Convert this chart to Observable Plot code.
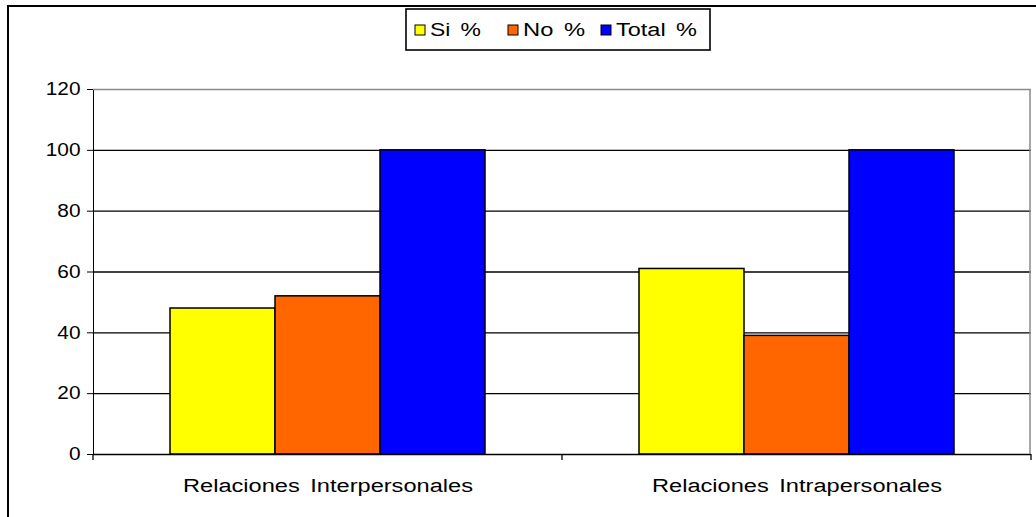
<!DOCTYPE html>
<html>
<head>
<meta charset="utf-8">
<script src="https://cdn.jsdelivr.net/npm/d3@7"></script>
<script src="https://cdn.jsdelivr.net/npm/@observablehq/plot@0.6"></script>
<style>
  html, body { margin: 0; padding: 0; background: #fff; overflow: hidden; }
  #wrap { position: relative; width: 1036px; height: 517px; font-family: "Liberation Sans", Arial, sans-serif; }
  #frame { position: absolute; left: 7px; top: 5px; width: 1100px; height: 600px; border: 2px solid #000; box-sizing: border-box; pointer-events: none; }
  #legend { position: absolute; left: 405px; top: 8px; }
  #chart { position: absolute; left: 0; top: 0; }
</style>
</head>
<body>
<div id="wrap">
  <div id="chart"></div>
  <div id="frame"></div>
  <div id="legend"></div>
</div>
<script>
// ---- data ----
const categories = ["Relaciones Interpersonales", "Relaciones Intrapersonales"];
const seriesNames = ["Si %", "No %", "Total %"];
const siValues = [48, 61];
const noValues = [52, 39];
const totalValues = [100, 100];
const seriesColors = ["#ffff00", "#ff6600", "#0000ff"];
const yTicks = [0, 20, 40, 60, 80, 100, 120];

const seriesValues = [siValues, noValues, totalValues];
const data = categories.flatMap((c, i) =>
  seriesNames.map((s, j) => ({ category: c, series: s, value: seriesValues[j][i] }))
);

const plot = Plot.plot({
  width: 1036,
  height: 517,
  marginLeft: 92,
  marginRight: 5,
  marginTop: 89,
  marginBottom: 63,
  style: { fontFamily: "Liberation Sans, Arial, sans-serif", fontSize: "18px", color: "#000", background: "transparent", overflow: "visible" },
  fx: { domain: categories, padding: 0, label: null, axis: "bottom", tickSize: 0, tickPadding: 25 },
  x: { domain: seriesNames, paddingInner: 0, paddingOuter: 0.73, axis: null },
  y: { domain: [0, 120], ticks: yTicks, tickSize: 6, tickPadding: 7, label: null, line: true, tickFormat: d => String(d) },
  color: { domain: seriesNames, range: seriesColors },
  marks: [
    Plot.ruleY(yTicks.filter(v => v > 0 && v < 120), { stroke: "#000", strokeWidth: 1.3 }),
    Plot.ruleY([120], { stroke: "#8a8a8a", strokeWidth: 1.5 }),
    Plot.barY(data, { fx: "category", x: "series", y: "value", fill: "series", stroke: "#000", strokeWidth: 1.5 }),
    Plot.ruleY([0], { stroke: "#000", strokeWidth: 1.5 })
  ]
});

document.getElementById("chart").appendChild(plot);

// category-boundary ticks and right edge, placed through the library's scales
const svg = d3.select(plot);
const fx = plot.scale("fx");
const y = plot.scale("y");
const edges = categories.map(c => fx.apply(c));
edges.push(fx.apply(categories[categories.length - 1]) + fx.bandwidth);
const y0 = y.apply(0), y120 = y.apply(120);
svg.append("g").selectAll("line").data(edges).join("line")
  .attr("x1", d => d).attr("x2", d => d)
  .attr("y1", y0).attr("y2", y0 + 6)
  .attr("stroke", "#000").attr("stroke-width", 1.3);
svg.append("line")
  .attr("x1", edges[edges.length - 1] - 1).attr("x2", edges[edges.length - 1] - 1)
  .attr("y1", y120).attr("y2", y0)
  .attr("stroke", "#8a8a8a").attr("stroke-width", 1.5);

// text sizing: the reference's glyphs are horizontally stretched
svg.selectAll("text").style("font-size", "18px");
svg.selectAll("[aria-label='fx-axis tick label'] text")
  .style("word-spacing", "3px")
  .attr("textLength", 290).attr("lengthAdjust", "spacingAndGlyphs");
svg.selectAll("[aria-label='y-axis tick label'] text")
  .each(function () {
    const n = this.textContent.length;
    d3.select(this).attr("textLength", 11.6 * n).attr("lengthAdjust", "spacingAndGlyphs");
  });

// legend (its own small svg, overlaid on the chart's top margin)
const lw = 304, lh = 41;
const lsvg = d3.select("#legend").append("svg")
  .attr("width", lw + 2).attr("height", lh + 2)
  .style("font-family", "Liberation Sans, Arial, sans-serif").style("font-size", "18px");
lsvg.append("rect").attr("x", 1).attr("y", 1).attr("width", lw).attr("height", lh)
  .attr("fill", "#fff").attr("stroke", "#000").attr("stroke-width", 1.6);
const swX = [10, 103, 196];
const txtLen = [51, 62, 81];
const it = lsvg.selectAll("g.item").data(seriesNames).join("g").attr("class", "item")
  .attr("transform", (d, i) => `translate(${swX[i]},0)`);
it.append("rect").attr("x", 0).attr("y", 17).attr("width", 10).attr("height", 10)
  .attr("fill", (d, i) => seriesColors[i]).attr("stroke", "#000").attr("stroke-width", 1);
it.append("text").attr("x", 15).attr("y", 22).attr("dy", "0.35em")
  .style("word-spacing", "3px")
  .attr("textLength", (d, i) => txtLen[i]).attr("lengthAdjust", "spacingAndGlyphs")
  .text(d => d);
</script>
</body>
</html>
